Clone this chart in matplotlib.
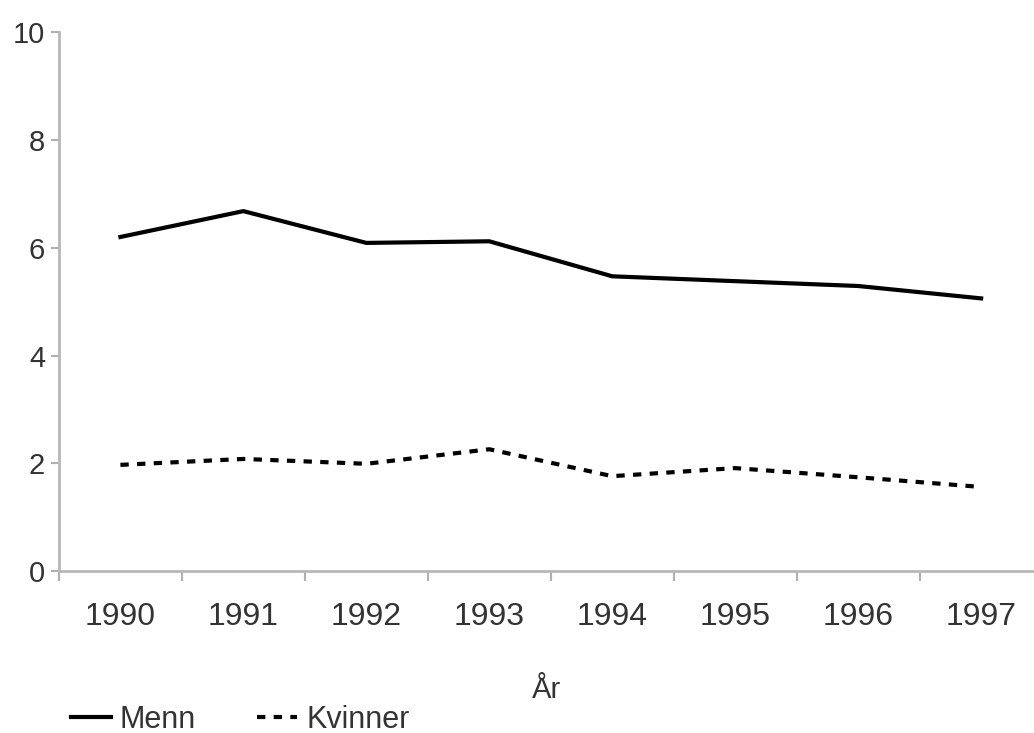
import numpy as np
import matplotlib.pyplot as plt

plt.rcParams['font.family'] = ['Liberation Sans', 'DejaVu Sans']

years = ["1990", "1991", "1992", "1993", "1994", "1995", "1996", "1997"]
menn = [6.2, 6.68, 6.09, 6.12, 5.47, 5.38, 5.29, 5.06]
kvinner = [1.97, 2.08, 1.99, 2.26, 1.76, 1.91, 1.74, 1.56]

fig = plt.figure(figsize=(10.34, 7.33), dpi=100)
ax = fig.add_axes([0.057, 0.221, 0.943, 0.735])

x = np.arange(len(years))
ax.plot(x, menn, color='black', lw=3, label='Menn', solid_joinstyle='round')
ax.plot(x, kvinner, color='black', lw=3, linestyle=(0, (2, 2)),
        dash_capstyle='butt', label='Kvinner')

ax.set_xlim(-0.5, len(years) - 0.57)
ax.set_ylim(0, 10)
ax.set_yticks([0, 2, 4, 6, 8, 10])
ax.set_xticks(x)
ax.set_xticklabels(years)
ax.set_xticks(np.arange(-0.5, len(years) - 0.6, 1), minor=True)
ax.tick_params(axis='x', which='major', length=0, pad=22, labelsize=23, labelcolor='#333333')
ax.tick_params(axis='x', which='minor', length=7, width=1.5, color='#b0b0b0', direction='out')
ax.tick_params(axis='y', length=6, width=1.5, color='#b0b0b0', labelsize=21,
               labelcolor='#333333', pad=4)

for s in ['top', 'right']:
    ax.spines[s].set_visible(False)
for s in ['left', 'bottom']:
    ax.spines[s].set_color('#b8b8b8')
    ax.spines[s].set_linewidth(2)

ax.set_xlabel('År', fontsize=21, color='#333333', labelpad=32)

fig.legend(loc='lower left', bbox_to_anchor=(0.042, -0.04), ncol=2, frameon=False,
           fontsize=22, handlelength=1.3, handletextpad=0.3, columnspacing=2.0,
           labelcolor='#333333')

fig.savefig('out.png', dpi=100)
